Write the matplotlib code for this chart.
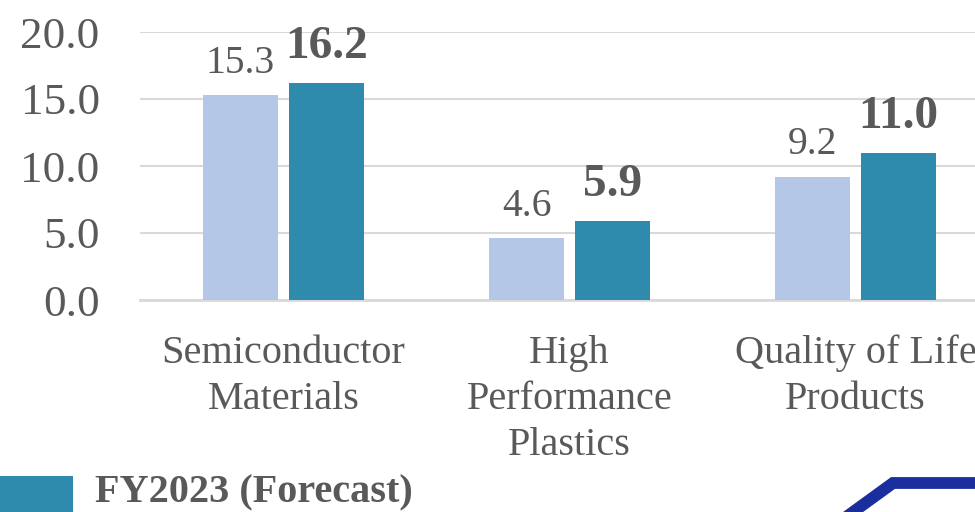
import matplotlib
matplotlib.use("Agg")
import matplotlib.pyplot as plt
import numpy as np
from matplotlib.patches import Rectangle
from matplotlib.lines import Line2D

categories = ["Semiconductor\nMaterials", "High\nPerformance\nPlastics", "Quality of Life\nProducts"]
fy2022 = [15.3, 4.6, 9.2]
fy2023 = [16.2, 5.9, 11.0]
yticks = [0, 5, 10, 15, 20]
legend_label = "FY2023 (Forecast)"

light = "#B4C7E7"
teal = "#2E8BAD"
txt = "#595959"

plt.rcParams['font.family'] = ['Liberation Serif', 'DejaVu Serif']

W, H = 975, 512
fig = plt.figure(figsize=(W/100, H/100), dpi=100)
ax = fig.add_axes([140/W, (H-300)/H, (W-140)/W, 268/H])

x = np.arange(len(categories))
bw = 75/286
off = 43/286
b1 = ax.bar(x - off, fy2022, width=bw, color=light, zorder=3)
b2 = ax.bar(x + off, fy2023, width=bw, color=teal, zorder=3)

for xi, v in zip(x - off, fy2022):
    ax.annotate(f"{v:.1f}", (xi, v), xytext=(0, 16), textcoords="offset points",
                ha="center", va="baseline", fontsize=28.5, color=txt)
for xi, v in zip(x + off, fy2023):
    ax.annotate(f"{v:.1f}", (xi, v), xytext=(0, 18), textcoords="offset points",
                ha="center", va="baseline", fontsize=34, fontweight="bold", color=txt)

ax.set_ylim(0, 20)
ax.set_xlim(-0.502, 2.418)
ax.set_yticks(yticks)
ax.set_yticklabels([f"{t:.1f}" for t in yticks], fontsize=32.5, color=txt)
ax.set_xticks(x)
ax.set_xticklabels(categories, fontsize=29, color=txt, linespacing=1.32, va="top")
ax.tick_params(axis="y", length=0, pad=29)
ax.tick_params(axis="x", length=0, pad=25)
for s in ["top", "right", "left"]:
    ax.spines[s].set_visible(False)
ax.spines["bottom"].set_color("#D9D9D9")
ax.spines["bottom"].set_linewidth(2)
ax.grid(axis="y", color="#D9D9D9", linewidth=1.5, zorder=0)
ax.set_axisbelow(True)

# legend
fig.patches.append(Rectangle((0, 0), 73/W, 36/H, transform=fig.transFigure,
                             facecolor=teal, edgecolor="none"))
fig.text(95/W, (H-493)/H, legend_label, fontsize=29, fontweight="bold",
         color=txt, ha="left", va="center")

# logo fragment
fig.lines.append(Line2D([846/W, 893/W, 1.0], [-0.01, (H-483)/H, (H-483)/H],
                        transform=fig.transFigure, color="#1B2E9E", linewidth=8.5,
                        solid_joinstyle="miter"))

fig.savefig("out.png", dpi=100)
